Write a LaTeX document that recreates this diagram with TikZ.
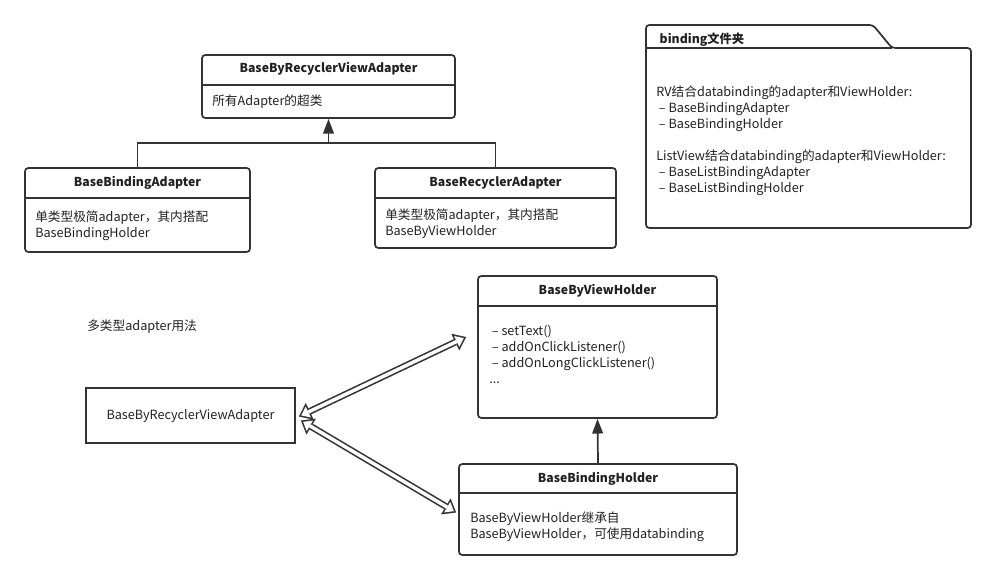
\documentclass[tikz,border=0pt]{standalone}
\usepackage{fontspec}
\setmainfont{Noto Sans CJK SC}
\usetikzlibrary{arrows.meta,fit,calc}

\definecolor{linegray}{rgb}{0.200000,0.200000,0.200000}
\definecolor{textgray}{rgb}{0.130000,0.130000,0.130000}

\tikzset{
  classbox/.style={draw=linegray, line width=1.3pt, rounded corners=2.5pt, inner sep=0pt},
  plainbox/.style={draw=linegray, line width=1.3pt, inner sep=0pt},
  divider/.style={draw=linegray, line width=1.1pt},
  headtext/.style={font=\bfseries\fontsize{9.2}{12}\selectfont, text=textgray},
  bodytext/.style={anchor=north west, align=left, inner sep=0pt, text=textgray, font=\fontsize{9.5}{12}\selectfont},
  inherit/.style={draw=linegray, line width=1.3pt, -{Triangle[length=11pt,width=8pt]}},
  % hollow double arrow: dark outline, then white core
  usesout/.style={draw=linegray, line width=5pt,
    {Triangle[length=9pt,width=14pt,line width=0pt]}-{Triangle[length=9pt,width=14pt,line width=0pt]}},
  usesin/.style={draw=white, line width=2.6pt, shorten <=1.95pt, shorten >=1.95pt,
    {Triangle[length=5.85pt,width=9.1pt,line width=0pt]}-{Triangle[length=5.85pt,width=9.1pt,line width=0pt]}},
}

\begin{document}
\begin{tikzpicture}[x=0.75pt, y=-0.75pt]
    \useasboundingbox (0,0) rectangle (996,581);

    % Drawing class BaseByRecyclerViewAdapter
    \node[classbox, fit={(202,55) (455,118)}] (rva) {};
    \draw[divider] (rva.west |- 0,85) -- (rva.east |- 0,85);
    \node[headtext] (rvahead) at ($(rva.north)+(0,15)$) {BaseByRecyclerViewAdapter};
    \node[bodytext] (rvabody) at (212,95) {所有Adapter的超类};

    % Drawing class BaseBindingAdapter
    \node[classbox, fit={(25,168) (250,252)}] (bba) {};
    \draw[divider] (bba.west |- 0,198) -- (bba.east |- 0,198);
    \node[headtext] (bbahead) at ($(bba.north)+(0,16)$) {BaseBindingAdapter};
    \node[bodytext] (bbabody) at (35,211) {单类型极简adapter，其内搭配\\BaseBindingHolder};

    % Drawing class BaseRecyclerAdapter
    \node[classbox, fit={(375,168) (616,248)}] (bra) {};
    \draw[divider] (bra.west |- 0,198) -- (bra.east |- 0,198);
    \node[headtext] (brahead) at ($(bra.north)+(0,16)$) {BaseRecyclerAdapter};
    \node[bodytext] (brabody) at (385,209) {单类型极简adapter，其内搭配\\BaseByViewHolder};

    % Drawing inheritance BaseBindingAdapter / BaseRecyclerAdapter -> BaseByRecyclerViewAdapter
    \coordinate (join) at (328.5,143);
    \draw[divider, line width=1.3pt] (bba.north) |- (join) -| (bra.north);
    \draw[inherit] (join) -- (rva.south);

    % Drawing folder binding
    \draw[divider, line width=1.3pt, rounded corners=2.5pt] (646,48) -- (646,25) -- (873,25) -- (892,48) -- (971,48) -- (971,228) -- (646,228) -- cycle;
    \draw[divider] (646,48) -- (892,48);
    \node[headtext, anchor=west] (foldertab) at (655,40) {binding文件夹};
    \node[bodytext] (folderbody) at (656,86) {RV结合databinding的adapter和ViewHolder:\\
        \hspace{2pt}-- BaseBindingAdapter\\
        \hspace{2pt}-- BaseBindingHolder\\[12pt]
        ListView结合databinding的adapter和ViewHolder:\\
        \hspace{2pt}-- BaseListBindingAdapter\\
        \hspace{2pt}-- BaseListBindingHolder};

    % Marking label
    \node[bodytext, anchor=west] (multilabel) at (87,327) {多类型adapter用法};

    % Drawing box BaseByRecyclerViewAdapter
    \node[plainbox, fit={(86,388) (295,443)}] (adp) {};
    \node[bodytext, anchor=center] (adptext) at (adp.center) {BaseByRecyclerViewAdapter};

    % Drawing class BaseByViewHolder
    \node[classbox, fit={(478,276) (717,418)}] (bvh) {};
    \draw[divider] (bvh.west |- 0,306) -- (bvh.east |- 0,306);
    \node[headtext] (bvhhead) at ($(bvh.north)+(0,16)$) {BaseByViewHolder};
    \node[bodytext] (bvhbody) at (489,325) {\hspace{2pt}-- setText()\\
        \hspace{2pt}-- addOnClickListener()\\
        \hspace{2pt}-- addOnLongClickListener()\\
        ...};

    % Drawing class BaseBindingHolder
    \node[classbox, fit={(459,464) (737,555)}] (bbh) {};
    \draw[divider] (bbh.west |- 0,493) -- (bbh.east |- 0,493);
    \node[headtext] (bbhhead) at ($(bbh.north)+(0,16)$) {BaseBindingHolder};
    \node[bodytext] (bbhbody) at (470,512) {BaseByViewHolder继承自\\BaseByViewHolder，可使用databinding};

    % Drawing inheritance BaseBindingHolder -> BaseByViewHolder
    \draw[inherit] (bbh.north) -- (bvh.south);

    % Drawing usage arrows
    \coordinate (useA) at ($(adp.east)+(3,1)$);
    \coordinate (useB) at ($(adp.east)+(5,5)$);
    \draw[usesout] (useA) -- ($(bvh.west)+(-11,-10)$);
    \draw[usesin] (useA) -- ($(bvh.west)+(-11,-10)$);
    \draw[usesout] (useB) -- ($(bbh.west)+(-2,3)$);
    \draw[usesin] (useB) -- ($(bbh.west)+(-2,3)$);
\end{tikzpicture}
\end{document}
